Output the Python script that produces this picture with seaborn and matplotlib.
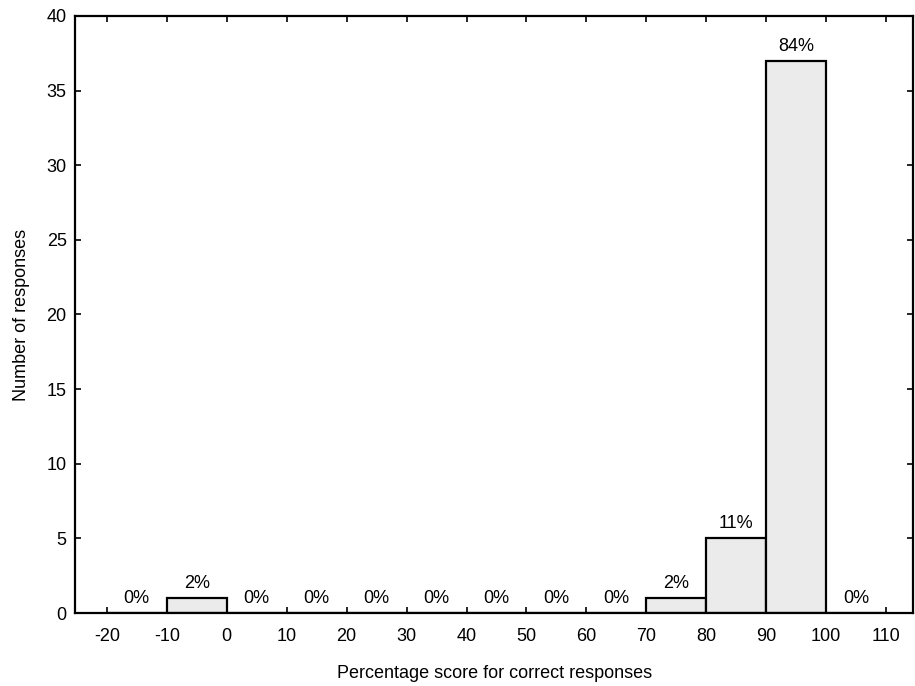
import matplotlib
matplotlib.use("Agg")
import matplotlib.pyplot as plt
import seaborn as sns
import numpy as np
import pandas as pd

# Data
bin_edges = [-20, -10, 0, 10, 20, 30, 40, 50, 60, 70, 80, 90, 100, 110]
counts = [0, 1, 0, 0, 0, 0, 0, 0, 0, 1, 5, 37, 0]
pct_labels = ["0%", "2%", "0%", "0%", "0%", "0%", "0%", "0%", "0%", "2%", "11%", "84%", "0%"]
x_ticks = [-20, -10, 0, 10, 20, 30, 40, 50, 60, 70, 80, 90, 100, 110]
y_ticks = [0, 5, 10, 15, 20, 25, 30, 35, 40]

sns.set_theme(style="white")
plt.rcParams['font.family'] = ['Liberation Sans', 'DejaVu Sans']

centers = [(bin_edges[i] + bin_edges[i + 1]) / 2 for i in range(len(counts))]
df = pd.DataFrame({"score": centers, "n": counts})

fig = plt.figure(figsize=(9.15, 6.86), dpi=100)
ax = fig.add_axes([0.082, 0.1064, 0.916, 0.8703])

sns.histplot(data=df, x="score", weights="n", bins=bin_edges, ax=ax,
             color="#ebebeb", edgecolor="black", linewidth=1.6, alpha=1)

for c, n, lab in zip(centers, counts, pct_labels):
    ax.text(c, n + 0.4, lab, ha="center", va="bottom", fontsize=13, color="black")

ax.set_xlim(-25.3, 114.5)
ax.set_ylim(0, 40)
ax.set_xticks(x_ticks)
ax.set_yticks(y_ticks)
ax.set_xticklabels([str(t) for t in x_ticks], fontsize=13)
ax.set_yticklabels([str(t) for t in y_ticks], fontsize=13)
ax.tick_params(direction="in", length=4, width=1.2, top=True, right=True,
               bottom=True, left=True, colors="black")
ax.tick_params(axis="x", pad=11)
ax.tick_params(axis="y", pad=6)
for s in ax.spines.values():
    s.set_visible(True)
    s.set_color("black")
    s.set_linewidth(1.6)

ax.set_xlabel("Percentage score for correct responses", fontsize=13, labelpad=14, color="black")
ax.set_ylabel("Number of responses", fontsize=13, labelpad=12, color="black")

fig.savefig("out.png", dpi=100)
